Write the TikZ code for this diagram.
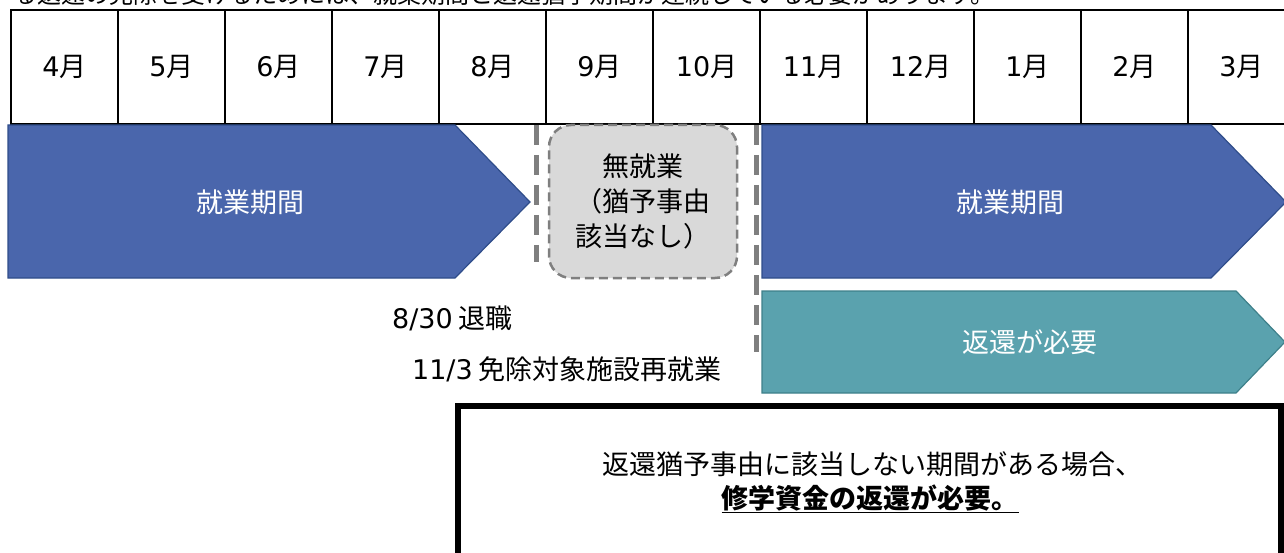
\documentclass[tikz,border=0pt]{standalone}
\usepackage{fontspec}
\setmainfont{Noto Sans CJK JP}
\newfontfamily\latfont{DejaVu Sans}
\newcommand{\lt}[1]{{\latfont #1}}
\definecolor{barblue}{HTML}{4A66AC}
\definecolor{barblueline}{HTML}{2F4D8A}
\definecolor{barteal}{HTML}{5AA2AE}
\definecolor{bartealline}{HTML}{3E808A}
\definecolor{dashgray}{HTML}{7F7F7F}
\definecolor{boxgray}{HTML}{D9D9D9}
\begin{document}
\begin{tikzpicture}[x=1pt,y=-1pt,
  font=\fontsize{27}{35}\selectfont,
  cell/.style={draw=black, line width=2pt, minimum width=107pt, minimum height=114pt,
    inner sep=0pt, anchor=north west},
  bluebar/.style={fill=barblue, draw=barblueline, line width=1.2pt},
  tealbar/.style={fill=barteal, draw=bartealline, line width=1.2pt},
  bartext/.style={text=white, inner sep=0pt},
  vdash/.style={draw=dashgray, line width=5pt, dash pattern=on 20pt off 10pt},
  nobox/.style={fill=boxgray, draw=dashgray, line width=2.5pt, dash pattern=on 9pt off 5pt,
    rounded corners=22pt, minimum width=188pt, minimum height=153pt, inner sep=0pt,
    align=center},
  lbl/.style={inner sep=0pt, anchor=east},
  msgbox/.style={draw=black, line width=6pt}
]
\useasboundingbox (0,0) rectangle (1284,553);
\clip (0,0) rectangle (1284,553);

% partial heading line (cut at top, as in the reference)
\node[anchor=base west, inner sep=0pt, font=\fontsize{24}{24}\selectfont] (head) at (13,4)
  {る返還の免除を受けるためには、就業期間と返還猶予期間が連続している必要があります。};

% month table
\foreach \m [count=\i from 0] in {4,5,6,7,8,9,10,11,12,1,2,3} {
  \node[cell] (m\i) at ({10+107*\i}, 9) {\lt{\m}月};
}

% first working period
\draw[bluebar] (8,125) -- (455,125) -- (530,202) -- (455,278) -- (8,278) -- cycle;
\node[bartext] (work1) at (250,202) {就業期間};

% dashed separators
\coordinate (d1a) at (536,125);
\coordinate (d1b) at (536,262);
\coordinate (d2a) at (756,125);
\coordinate (d2b) at (756,352);
\draw[vdash] (d1a) -- (d1b);
\draw[vdash] (d2a) -- (d2b);

% no-work box
\node[nobox] (nowork) at (643,201.5) {無就業\\（猶予事由\\該当なし）};

% second working period
\draw[bluebar] (762,125) -- (1211,125) -- (1286,202) -- (1211,278) -- (762,278) -- cycle;
\node[bartext] (work2) at (1010,202) {就業期間};

% repayment needed
\draw[tealbar] (762,291) -- (1236,291) -- (1285,342) -- (1236,393) -- (762,393) -- cycle;
\node[bartext] (repay) at (1030,342) {返還が必要};

% date labels
\node[lbl] (retire) at (513,318) {\lt{8/30} 退職};
\node[lbl] (rehire) at (722,369) {\lt{11/3} 免除対象施設再就業};

% message box
\draw[msgbox] (458,600) -- (458,406) -- (1281,406) -- (1281,600);
\node[inner sep=0pt] (msg1) at (872,464) {返還猶予事由に該当しない期間がある場合、};
\node[inner sep=0pt, font=\fontsize{27}{35}\selectfont\bfseries] (msg2) at (870,499)
  {\underline{修学資金の返還が必要。}};
\end{tikzpicture}
\end{document}
